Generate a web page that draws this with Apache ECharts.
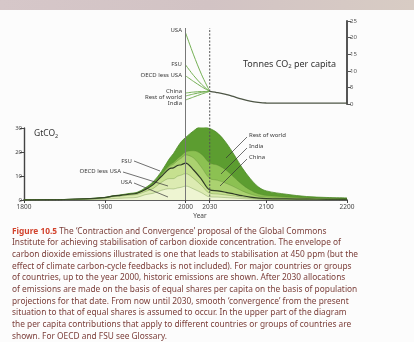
<!DOCTYPE html>
<html>
<head>
<meta charset="utf-8">
<script src="https://cdn.jsdelivr.net/npm/echarts@6/dist/echarts.min.js"></script>
<style>
html,body{margin:0;padding:0;background:#fcfcfc;}
#c{width:414px;height:342px;}
</style>
</head>
<body>
<div id="c"></div>
<script>
// ---- Lower chart: emissions GtCO2 (stacked) ----
const years = [1800,1850,1875,1900,1910,1920,1930,1940,1950,1960,1970,1980,1985,1990,1995,2000,2010,2020,2030,2040,2050,2060,2070,2080,2090,2100,2125,2150,2175,2200];
const usa         = [0.02,0.05,0.1,0.35,0.6,0.75,0.9,1.1,2.2,2.8,4.0,4.7,4.6,5.0,5.3,5.8,4.6,3.0,1.3,1.2,1.0,0.8,0.6,0.4,0.3,0.2,0.15,0.1,0.08,0.07];
const oecdLessUsa = [0.02,0.1,0.25,0.5,0.75,0.9,1.1,1.2,1.3,2.0,3.3,4.2,4.3,4.9,5.1,5.2,4.4,3.0,1.5,1.3,1.1,0.9,0.6,0.4,0.2,0.2,0.15,0.12,0.1,0.08];
const fsu         = [0.01,0.05,0.1,0.15,0.25,0.3,0.4,0.5,0.8,1.6,2.5,4.1,4.5,4.5,4.3,4.4,3.5,2.5,1.4,1.3,1.1,0.8,0.6,0.4,0.3,0.2,0.15,0.13,0.1,0.1];
const china       = [0,0,0.01,0.02,0.03,0.03,0.05,0.07,0.1,0.3,0.5,1.0,1.5,2.0,2.8,3.4,5.0,5.0,4.8,4.4,3.8,3.0,2.0,1.3,0.8,0.6,0.45,0.3,0.22,0.17];
const india       = [0,0,0.01,0.03,0.04,0.04,0.05,0.08,0.1,0.2,0.3,0.5,0.7,0.8,1.0,1.2,3.0,5.5,6.4,6.3,5.5,4.0,2.7,1.7,1.0,0.7,0.4,0.3,0.25,0.2];
const restOfWorld = [0.01,0.02,0.03,0.05,0.08,0.13,0.2,0.25,0.5,0.7,1.2,2.7,3.7,4.8,5.9,6.0,8.3,11.7,14.4,13.3,11.5,9.5,7.0,4.8,2.9,1.9,1.1,0.5,0.3,0.25];
const xTickYears = [1800,1900,2000,2030,2100,2200];

// ---- Upper chart: tonnes CO2 per capita ----
const pcYears  = [2000,2010,2020,2030];
const pcUSA    = [21.5,14.8,8.8,3.8];
const pcFSU    = [11.8,8.6,5.9,3.8];
const pcOECD   = [8.5,6.8,5.2,3.8];
const pcChina  = [3.3,3.6,3.75,3.8];
const pcRoW    = [2.4,3.0,3.5,3.8];
const pcIndia  = [1.2,2.1,3.0,3.8];
const convYears  = [2030,2040,2050,2060,2070,2080,2090,2100,2150,2200];
const convValues = [3.8,3.4,2.9,2.2,1.5,0.9,0.5,0.3,0.25,0.25];

const captionLines = [
  '{b|Figure 10.5} The \u2018Contraction and Convergence\u2019 proposal of the Global Commons',
  'Institute for achieving stabilisation of carbon dioxide concentration. The envelope of',
  'carbon dioxide emissions illustrated is one that leads to stabilisation at 450 ppm (but the',
  'effect of climate carbon-cycle feedbacks is not included). For major countries or groups',
  'of countries, up to the year 2000, historic emissions are shown. After 2030 allocations',
  'of emissions are made on the basis of equal shares per capita on the basis of population',
  'projections for that date. From now until 2030, smooth \u2018convergence\u2019 from the present',
  'situation to that of equal shares is assumed to occur. In the upper part of the diagram',
  'the per capita contributions that apply to different countries or groups of countries are',
  'shown. For OECD and FSU see Glossary.'
];

const FONT = '"Noto Sans", "Open Sans", sans-serif';
const zip = (xs, ys) => xs.map((x, i) => [x, ys[i]]);

// caption horizontal compression
const ctx = document.createElement('canvas').getContext('2d');
ctx.font = '9.5px "Noto Sans"';
const capScale = 346 / ctx.measureText(captionLines[2]).width;

const chart = echarts.init(document.getElementById('c'), null, {renderer: 'canvas'});

const layerColors = ['#eef5d2', '#dcebb2', '#c6e08f', '#abd270', '#8cc152', '#5c9d30'];
const layerData = [usa, oecdLessUsa, fsu, china, india, restOfWorld];

// running (stacked) totals, bottom to top
const cumulative = [];
layerData.forEach((vals, i) => {
  cumulative.push(vals.map((v, k) => v + (i > 0 ? cumulative[i - 1][k] : 0)));
});

// draw top layer first so lower layers paint over it
const areaSeries = [];
for (let i = layerData.length - 1; i >= 0; i--) {
  areaSeries.push({
    type: 'line',
    xAxisIndex: 1, yAxisIndex: 1,
    smooth: 0.35,
    symbol: 'none',
    data: zip(years, cumulative[i]),
    lineStyle: i === 2 ? {color: '#2e3a26', width: 1.2} : {color: i === 5 ? '#4c8a26' : 'rgba(90,130,50,0.55)', width: i === 5 ? 0.8 : 0.6},
    areaStyle: {color: layerColors[i], opacity: 1, origin: 'start'},
    z: 2
  });
}

const pcLine = (vals) => ({
  type: 'line', xAxisIndex: 0, yAxisIndex: 0, smooth: 0.3, symbol: 'none',
  data: zip(pcYears, vals), lineStyle: {color: '#74b054', width: 1}, z: 3
});

const captionGraphics = captionLines.map((t, i) => ({
  type: 'text',
  x: 12, y: 231 + i * 11.65,
  scaleX: capScale,
  style: {
    text: t, fontFamily: FONT, fontSize: 9.5, fill: '#7a3d38',
    verticalAlign: 'middle', align: 'left',
    rich: {b: {fontFamily: FONT, fontSize: 9.5, fontWeight: 'bold', fill: '#d2432d', verticalAlign: 'middle'}}
  }
}));

const smallLabel = (text, x, y, align) => ({
  type: 'text', x: x, y: y, z: 10,
  style: {text: text, fontFamily: FONT, fontSize: 6, fill: '#3a3a3a', align: align || 'right', verticalAlign: 'middle'}
});
const leader = (x1, y1, x2, y2) => ({
  type: 'line', shape: {x1: x1, y1: y1, x2: x2, y2: y2},
  style: {stroke: '#333', lineWidth: 0.7}, z: 10
});

const yearFmt = v => String(v);

const option = {
  animation: false,
  backgroundColor: '#fcfcfc',
  grid: [
    {left: 24, right: 67, top: 21, bottom: 238},
    {left: 24, right: 67, top: 128, bottom: 142},
    {left: 24, right: 67, top: 28, bottom: 142}
  ],
  xAxis: [
    {gridIndex: 0, type: 'value', min: 1800, max: 2200, show: false},
    {gridIndex: 1, type: 'value', min: 1800, max: 2200,
      axisLine: {show: true, lineStyle: {color: '#2a2a2a', width: 1.6}},
      axisTick: {show: true, customValues: xTickYears, length: 3, lineStyle: {color: '#444'}},
      axisLabel: {customValues: xTickYears, formatter: yearFmt, fontSize: 6.5, color: '#444', margin: 4, fontFamily: FONT},
      splitLine: {show: false}},
    {gridIndex: 2, type: 'value', min: 1800, max: 2200, show: false}
  ],
  yAxis: [
    {gridIndex: 0, type: 'value', min: 0, max: 25, interval: 5, position: 'right',
      axisLine: {show: true, lineStyle: {color: '#555', width: 2}},
      axisTick: {show: true, length: 4, lineStyle: {color: '#555'}},
      axisLabel: {fontSize: 6, color: '#555', margin: 3, fontFamily: FONT},
      splitLine: {show: false}},
    {gridIndex: 1, type: 'value', min: 0, max: 30, interval: 10,
      axisLine: {show: true, lineStyle: {color: '#444', width: 1.4}},
      axisTick: {show: true, length: 4, lineStyle: {color: '#444'}},
      axisLabel: {fontSize: 6, color: '#444', margin: 2, fontFamily: FONT},
      splitLine: {show: false}},
    {gridIndex: 2, type: 'value', min: 0, max: 1, show: false}
  ],
  series: [
    ...areaSeries,
    pcLine(pcUSA), pcLine(pcFSU), pcLine(pcOECD), pcLine(pcChina), pcLine(pcRoW), pcLine(pcIndia),
    {type: 'line', xAxisIndex: 0, yAxisIndex: 0, smooth: 0.2, symbol: 'none',
      data: zip(convYears, convValues), lineStyle: {color: '#4d5545', width: 1.3}, z: 4},
    {type: 'line', xAxisIndex: 2, yAxisIndex: 2, symbol: 'none',
      data: [[2000, 0], [2000, 1]], lineStyle: {color: '#777', width: 1}, z: 5},
    {type: 'line', xAxisIndex: 2, yAxisIndex: 2, symbol: 'none',
      data: [[2030, 0], [2030, 1]], lineStyle: {color: '#555', width: 1, type: [2, 1.5]}, z: 5}
  ],
  graphic: [
    {type: 'rect', shape: {x: 0, y: 0, width: 414, height: 10},
      style: {fill: new echarts.graphic.LinearGradient(0, 0, 1, 0, [
        {offset: 0, color: '#d6c7c9'}, {offset: 0.5, color: '#d2c3c4'}, {offset: 1, color: '#d8ccc4'}])}, z: 0},
    smallLabel('USA', 182, 30),
    smallLabel('FSU', 182, 64),
    smallLabel('OECD less USA', 182, 75),
    smallLabel('China', 182, 91),
    smallLabel('Rest of world', 182, 97),
    smallLabel('India', 182, 103),
    {type: 'text', x: 243, y: 64,
      style: {text: 'Tonnes CO{s|2} per capita', fontFamily: FONT, fontSize: 9, fill: '#333', verticalAlign: 'middle',
        rich: {s: {fontSize: 6, fontFamily: FONT, fill: '#333', verticalAlign: 'bottom', padding: [5, 0, 0, 0]}}}},
    {type: 'text', x: 34, y: 134,
      style: {text: 'GtCO{s|2}', fontFamily: FONT, fontSize: 8.5, fill: '#333', verticalAlign: 'middle',
        rich: {s: {fontSize: 5.5, fontFamily: FONT, fill: '#333', verticalAlign: 'bottom', padding: [5, 0, 0, 0]}}}},
    {type: 'text', x: 200, y: 216,
      style: {text: 'Year', fontFamily: FONT, fontSize: 6.5, fill: '#444', align: 'center', verticalAlign: 'middle'}},
    smallLabel('FSU', 132, 161),
    smallLabel('OECD less USA', 121, 171),
    smallLabel('USA', 132, 182),
    leader(134, 161, 160, 171),
    leader(123, 172, 168, 186),
    leader(134, 183, 168, 197),
    smallLabel('Rest of world', 249, 135, 'left'),
    smallLabel('India', 249, 146, 'left'),
    smallLabel('China', 249, 157, 'left'),
    leader(247, 137, 226, 158),
    leader(247, 148, 221, 174),
    leader(247, 159, 220, 186),
    ...captionGraphics
  ]
};
chart.setOption(option);
</script>
</body>
</html>
